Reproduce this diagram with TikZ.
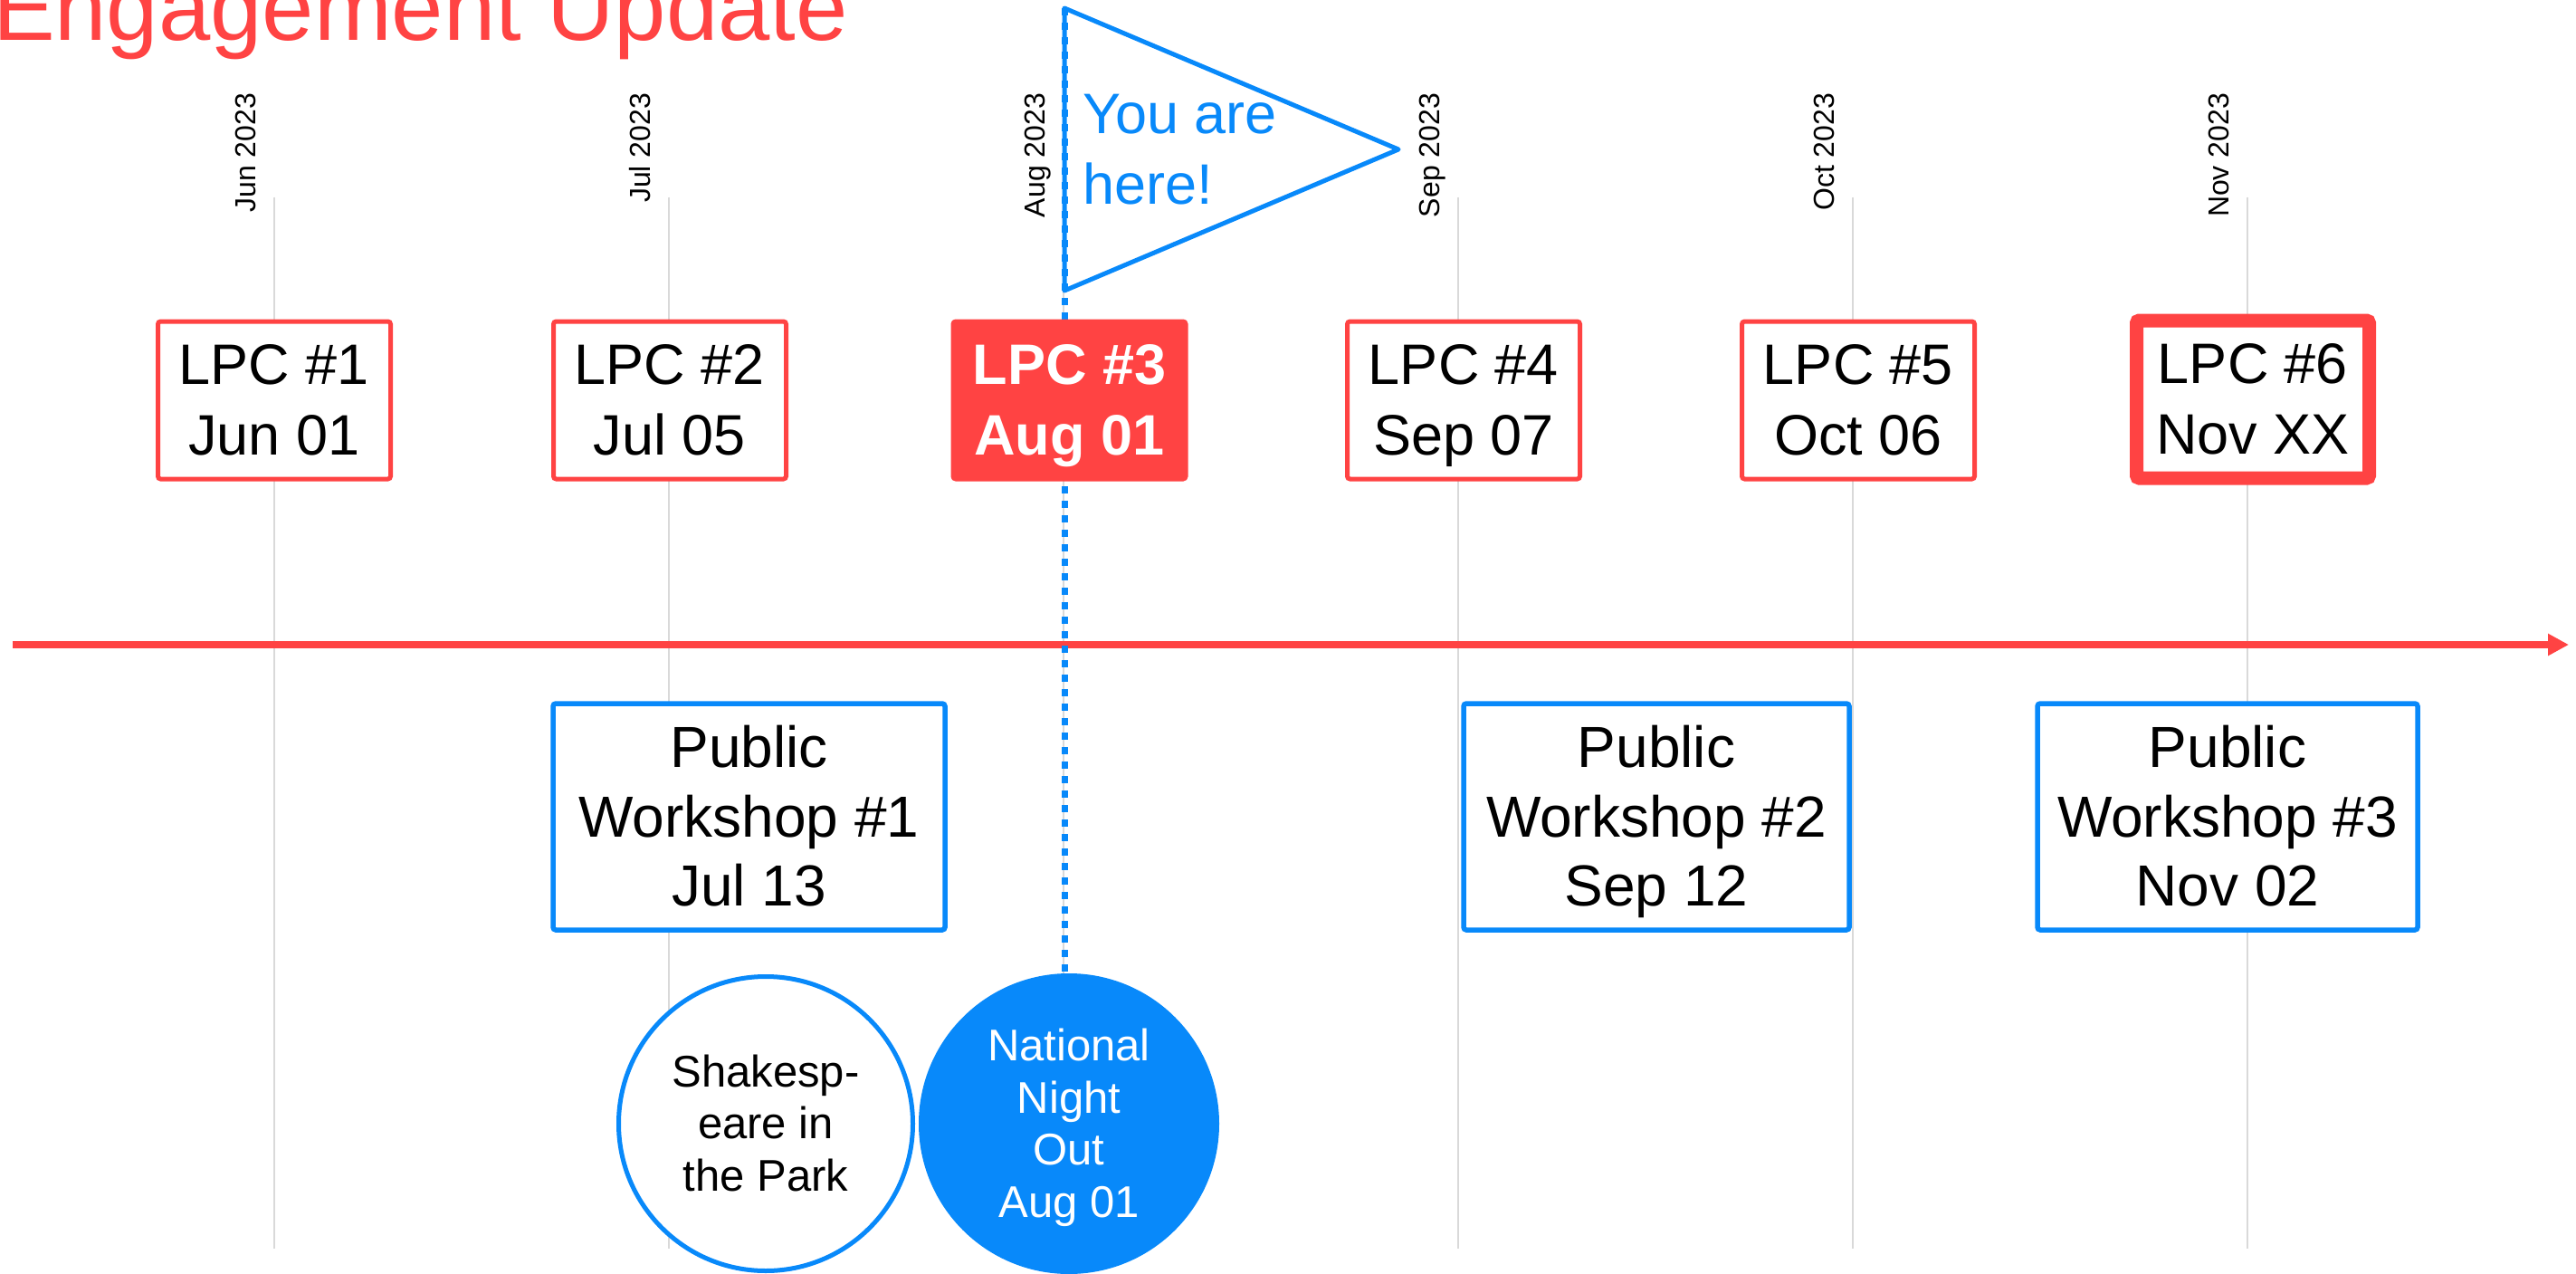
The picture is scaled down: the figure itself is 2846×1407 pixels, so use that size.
\documentclass[tikz,border=0pt]{standalone}
\usepackage{fontspec}
\setmainfont{Liberation Sans}
\usetikzlibrary{arrows.meta}
\definecolor{tred}{HTML}{FF4343}
\definecolor{tblue}{HTML}{0889FA}
\definecolor{tgrid}{HTML}{D9D9D9}
\newcommand\tline[1]{\smash{#1}\vphantom{H}}
\begin{document}
\begin{tikzpicture}[x=1pt,y=-1pt,
  every node/.style={inner sep=0pt,outer sep=0pt},
  gridline/.style={draw=tgrid,line width=2pt},
  month/.style={rotate=90,anchor=east,font=\fontsize{32}{38}\selectfont,text height=23pt,text depth=0pt},
  lpcbox/.style={draw=tred,line width=5pt,rounded corners=3pt,minimum width=257pt,minimum height=174pt,align=center,fill=white,font=\fontsize{63}{78}\selectfont},
  lpcnow/.style={lpcbox,fill=tred,text=white,font=\bfseries\fontsize{63}{78}\selectfont},
  lpcnext/.style={lpcbox,line width=15pt},
  wsbox/.style={draw=tblue,line width=5.5pt,rounded corners=3pt,minimum height=250pt,align=center,fill=white,font=\fontsize{64}{76.5}\selectfont},
  evcircle/.style={circle,draw=tblue,line width=5pt,minimum size=325pt,fill=white,align=center,font=\fontsize{49}{57.5}\selectfont},
  nowcircle/.style={circle,fill=tblue,minimum size=332pt,text=white,align=center,font=\fontsize{49}{57.5}\selectfont},
  axisline/.style={draw=tred,line width=7.5pt,-{Triangle[length=23pt,width=23pt]}},
  flagline/.style={draw=tblue,line width=5pt,line join=round},
  nowline/.style={draw=tblue,line width=7pt,dash pattern=on 8pt off 8pt},
  titletext/.style={text=tred,font=\fontsize{103}{120}\selectfont}
]
\useasboundingbox (0,0) rectangle (2846,1407);
\fill[white] (0,0) rectangle (2846,1407);

% grid lines and month labels
\foreach \gx/\mname/\gid in {303/Jun 2023/jun,739/Jul 2023/jul,1175/Aug 2023/aug,1611/Sep 2023/sep,2047/Oct 2023/oct,2483/Nov 2023/nov}{
  \coordinate (g\gid-t) at (\gx,218);
  \coordinate (g\gid-b) at (\gx,1379);
  \draw[gridline] (g\gid-t) -- (g\gid-b);
  \node[month] (m\gid) at (\gx-32,103) {\mname};
}

% title
\node[titletext,anchor=base west] (title) at (-8,45) {Engagement Update};

% axis
\coordinate (axL) at (14,712);
\coordinate (axR) at (2838,712);
\draw[axisline] (axL) -- (axR);

% flag
\coordinate (fTop) at (1176,9);
\coordinate (fTip) at (1545,165);
\coordinate (fBot) at (1176,321);
\draw[flagline] (fTop) -- (fTip) -- (fBot) -- cycle;
\node[anchor=north west,align=left,text=tblue,font=\fontsize{63}{78}\selectfont] (here) at (1196,104) {\tline{You are}\\\tline{here!}};

% you-are-here line
\coordinate (dashEnd) at (1176,1076);
\draw[nowline] (fTop) -- (dashEnd);

% LPC boxes
\node[lpcbox] (lpc1) at (303,442) {\tline{LPC \#1}\\\tline{Jun 01}};
\node[lpcbox] (lpc2) at (740,442) {\tline{LPC \#2}\\\tline{Jul 05}};
\node[lpcnow] (lpc3) at (1181.5,442) {\tline{LPC \#3}\\\tline{Aug 01}};
\node[lpcbox] (lpc4) at (1617,442) {\tline{LPC \#4}\\\tline{Sep 07}};
\node[lpcbox] (lpc5) at (2053,442) {\tline{LPC \#5}\\\tline{Oct 06}};
\node[lpcnext] (lpc6) at (2489,441) {\tline{LPC \#6}\\\tline{Nov XX}};

% workshops
\node[wsbox,minimum width=433pt] (ws1) at (827.5,902) {\tline{Public}\\\tline{Workshop \#1}\\\tline{Jul 13}};
\node[wsbox,minimum width=426pt] (ws2) at (1830,902) {\tline{Public}\\\tline{Workshop \#2}\\\tline{Sep 12}};
\node[wsbox,minimum width=420pt] (ws3) at (2461,902) {\tline{Public}\\\tline{Workshop \#3}\\\tline{Nov 02}};

% events
\node[evcircle] (shake) at (846,1241) {\tline{Shakesp-}\\\tline{eare in}\\\tline{the Park}};
\node[nowcircle] (nno) at (1181,1241) {\tline{National}\\\tline{Night}\\\tline{Out}\\\tline{Aug 01}};
\end{tikzpicture}
\end{document}
